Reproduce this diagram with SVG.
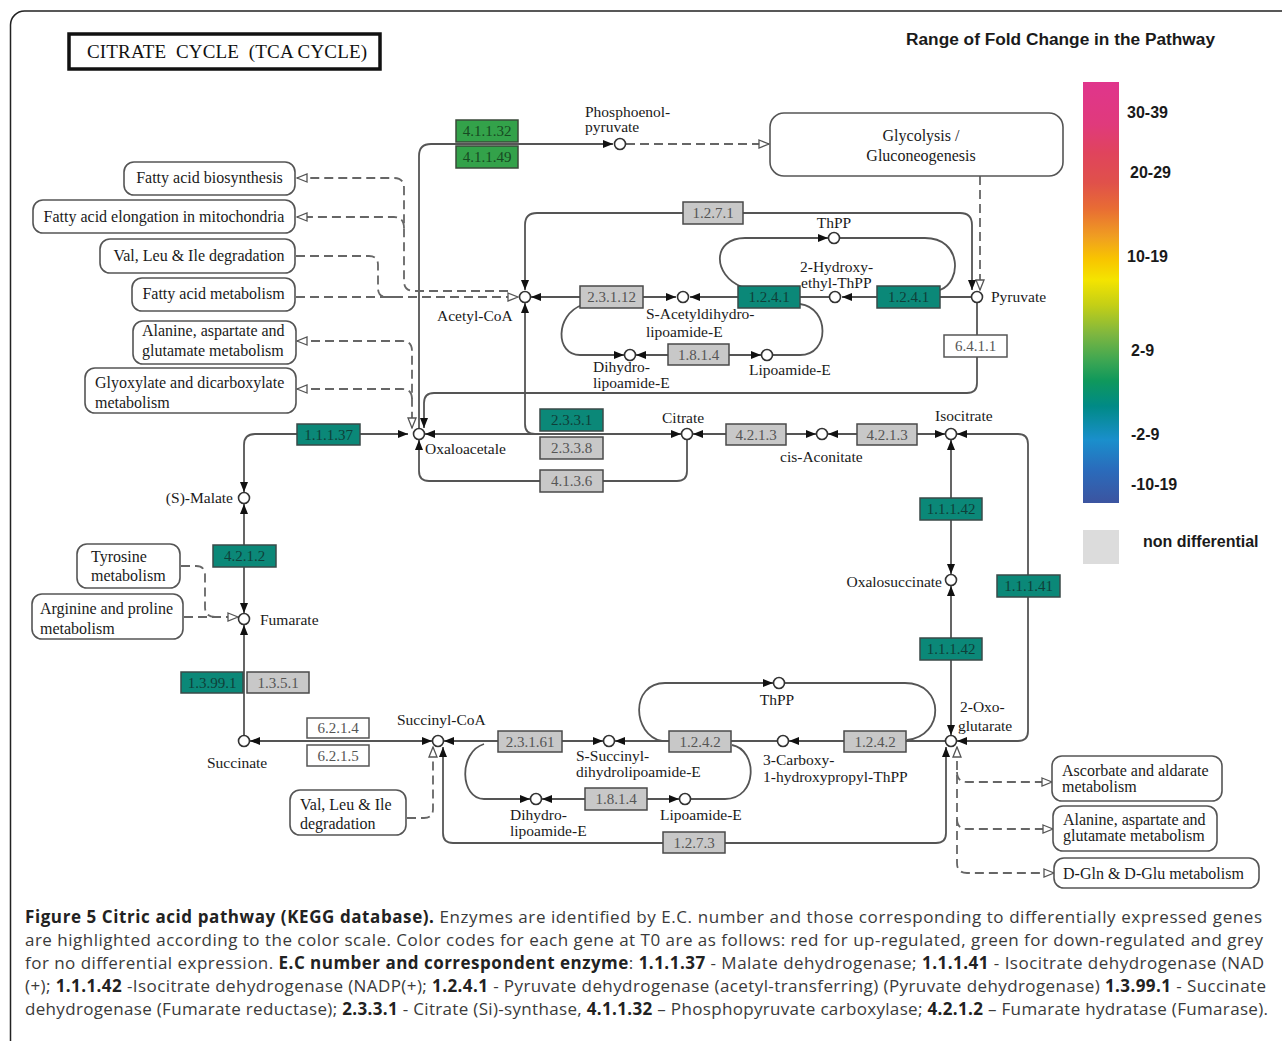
<svg xmlns="http://www.w3.org/2000/svg" width="1282" height="1041" viewBox="0 0 1282 1041">
<style>
.lb{font-family:"Liberation Serif",serif;font-size:15.5px;fill:#1a1a1a}
.mp{font-family:"Liberation Serif",serif;font-size:16px;fill:#1a1a1a}
.mbox{fill:#fff;stroke:#555;stroke-width:1.6}
.ec{font-family:"Liberation Serif",serif;font-size:15px;text-anchor:middle}
.eg rect{fill:#c8c8c8;stroke:#4a4a4a;stroke-width:1.5}
.eg text{fill:#555}
.et rect{fill:#0b8878;stroke:#3a4a48;stroke-width:1.5}
.et text{fill:#0f3f39}
.en rect{fill:#33a24a;stroke:#3a4a3a;stroke-width:1.5}
.en text{fill:#174a22}
.ew rect{fill:#fff;stroke:#555;stroke-width:1.5}
.ew text{fill:#555}
.cp{fill:#fff;stroke:#333;stroke-width:1.6}
.ln{fill:none;stroke:#555;stroke-width:1.8}
.ds{fill:none;stroke:#666;stroke-width:1.8;stroke-dasharray:9 5}
.fa{marker-end:url(#af)}
.fs{marker-start:url(#af)}
.oa{marker-end:url(#ao)}
.os{marker-start:url(#ao)}
.lg{font-family:"Liberation Sans",Arial,sans-serif;font-weight:bold;font-size:16px;fill:#1a1a1a}
.cap{font-family:"Open Sans","Noto Sans",sans-serif;font-size:17px;fill:#3a3a3a}
.b{font-weight:bold;fill:#222}
</style>
<defs>
<marker id="af" viewBox="0 0 10 8" refX="10" refY="4" markerWidth="10" markerHeight="8" markerUnits="userSpaceOnUse" orient="auto-start-reverse"><path d="M0,0 L10,4 L0,8 Z" fill="#111"/></marker>
<marker id="ao" viewBox="0 0 12 10" refX="11" refY="5" markerWidth="12" markerHeight="10" markerUnits="userSpaceOnUse" orient="auto-start-reverse"><path d="M1,1 L11,5 L1,9 Z" fill="#fff" stroke="#555" stroke-width="1.3"/></marker>
<linearGradient id="grad" x1="0" y1="0" x2="0" y2="1">
<stop offset="0" stop-color="#e0358c"/>
<stop offset="0.1" stop-color="#e03a7c"/>
<stop offset="0.17" stop-color="#e0445c"/>
<stop offset="0.24" stop-color="#e0514a"/>
<stop offset="0.3" stop-color="#e86c34"/>
<stop offset="0.37" stop-color="#f0a020"/>
<stop offset="0.42" stop-color="#f8c400"/>
<stop offset="0.47" stop-color="#f4e400"/>
<stop offset="0.53" stop-color="#c4cf16"/>
<stop offset="0.6" stop-color="#7db640"/>
<stop offset="0.66" stop-color="#3fa752"/>
<stop offset="0.71" stop-color="#0f985c"/>
<stop offset="0.77" stop-color="#008a86"/>
<stop offset="0.85" stop-color="#1a8fcc"/>
<stop offset="0.92" stop-color="#2a6cbc"/>
<stop offset="1" stop-color="#3c54a0"/>
</linearGradient>
</defs>
<rect width="1282" height="1041" fill="#fff"/>
<rect x="10.5" y="11" width="1300" height="1100" rx="14" fill="none" stroke="#222" stroke-width="1.5"/>

<g id="title">
<rect x="69" y="34" width="311" height="35" fill="#fff" stroke="#111" stroke-width="3.5"/>
<text x="87" y="58" font-family="Liberation Serif,serif" font-size="19" fill="#111" textLength="280" lengthAdjust="spacing">CITRATE&#160; CYCLE&#160; (TCA CYCLE)</text>
</g>

<g id="legend">
<text class="lg" x="906" y="45" textLength="309" lengthAdjust="spacingAndGlyphs">Range of Fold Change in the Pathway</text>
<rect x="1083" y="82" width="36" height="421" fill="url(#grad)"/>
<text class="lg" x="1127" y="118">30-39</text>
<text class="lg" x="1130" y="178">20-29</text>
<text class="lg" x="1127" y="262">10-19</text>
<text class="lg" x="1131" y="356">2-9</text>
<text class="lg" x="1131" y="440">-2-9</text>
<text class="lg" x="1131" y="490">-10-19</text>
<rect x="1083" y="530" width="36" height="34" fill="#dcdcdc"/>
<text class="lg" x="1143" y="547">non differential</text>
</g>

<g id="connectors">
<path class="ln fa" d="M419,428 V156 Q419,144 431,144 H613"/>
<path class="ds oa" d="M626,144 H769"/>
<path class="ds oa" d="M980,176 V290"/>
<path class="ln fs fa" d="M972,290 V225 Q972,213 960,213 H537 Q525,213 525,225 V290"/>
<path class="ds oa" d="M508,291 H414 Q404,291 404,281 V188 Q404,178 394,178 H297"/>
<path class="ds oa" d="M404,228 Q404,217 394,217 H297"/>
<path class="ds" d="M296,256 H369 Q378,256 378,265 V288 Q378,297 387,297 H400"/>
<path class="ds oa" d="M296,297 H518"/>
<path class="ln fs fa" d="M531,297 H676"/>
<path class="ln fs" d="M690,297 H829"/>
<path class="ln fs" d="M842,297 H971"/>
<path class="ln fa" d="M742,287 C712,275 712,238 745,238 H828"/>
<path class="ln" d="M840,238 H925 C962,238 962,282 940,290"/>
<path class="ln fa" d="M582,305 C555,315 555,355 580,355 H624"/>
<path class="ln fs fa" d="M636,355 H761"/>
<path class="ln" d="M773,355 H800 C830,355 830,308 800,304"/>
<path class="ln fa" d="M977,303 V383 Q977,393 967,393 H434 Q424,393 424,403 V428"/>
<path class="ds os oa" d="M297,341 H402 Q412,341 412,351 V428"/>
<path class="ds os" d="M297,389 H402 Q412,389 412,399"/>
<path class="ln fs fa" d="M408,434 H255 Q244,434 244,445 V492"/>
<path class="ln fs fa" d="M244,504 V613"/>
<path class="ln fs" d="M244,625 V735"/>
<path class="ds" d="M181,566 H196 Q205,566 205,575 V607 Q205,617 215,617"/>
<path class="ds oa" d="M184,617 H238"/>
<path class="ln fs fa" d="M425,434 H681"/>
<path class="ln fs" d="M525,303 V424 Q525,434 535,434"/>
<path class="ln fs" d="M419,440 V471 Q419,481 429,481 H677 Q687,481 687,471 V440"/>
<path class="ln fs fa" d="M693,434 H816"/>
<path class="ln fs fa" d="M828,434 H945"/>
<path class="ln fs fa" d="M957,434 H1018 Q1028,434 1028,444 V731 Q1028,741 1018,741 H957"/>
<path class="ln fs fa" d="M951,440 V574"/>
<path class="ln fs fa" d="M951,586 V735"/>
<path class="ln fs fa" d="M250,741 H432"/>
<path class="ln fs fa" d="M444,741 H603"/>
<path class="ln fs" d="M615,741 H777"/>
<path class="ln fs" d="M789,741 H945"/>
<path class="ln fa" d="M662,741 C632,735 630,683 665,683 H773"/>
<path class="ln" d="M785,683 H905 C945,683 945,736 907,740"/>
<path class="ln fa" d="M484,744 C458,752 460,799 484,799 H530"/>
<path class="ln fs fa" d="M542,799 H679"/>
<path class="ln" d="M691,799 H725 C758,799 758,750 732,745"/>
<path class="ln fs fa" d="M443,747 V833 Q443,843 453,843 H936 Q946,843 946,833 V747"/>
<path class="ds oa" d="M407,818 H424 Q433,818 433,809 V747"/>
<path class="ds os oa" d="M957,747 V863 Q957,873 967,873 H1054"/>
<path class="ds oa" d="M957,772 Q957,782 967,782 H1052"/>
<path class="ds oa" d="M957,819 Q957,829 967,829 H1053"/>
</g>

<g id="map-fab"><rect class="mbox" x="124" y="162" width="171" height="33" rx="10"/><text class="mp" x="209.5" y="183" text-anchor="middle">Fatty acid biosynthesis</text></g>
<g id="map-fae"><rect class="mbox" x="33" y="200" width="262" height="33" rx="10"/><text class="mp" x="164" y="222" text-anchor="middle">Fatty acid elongation in mitochondria</text></g>
<g id="map-val1"><rect class="mbox" x="100" y="239" width="195" height="34" rx="10"/><text class="mp" x="199" y="261" text-anchor="middle">Val, Leu &amp; Ile degradation</text></g>
<g id="map-fam"><rect class="mbox" x="132" y="278" width="163" height="33" rx="10"/><text class="mp" x="213.5" y="299" text-anchor="middle">Fatty acid metabolism</text></g>
<g id="map-ala1"><rect class="mbox" x="133" y="321" width="163" height="43" rx="10"/><text class="mp" x="142" y="336">Alanine, aspartate and</text><text class="mp" x="142" y="356">glutamate metabolism</text></g>
<g id="map-gly"><rect class="mbox" x="85" y="368" width="211" height="45" rx="10"/><text class="mp" x="95" y="388">Glyoxylate and dicarboxylate</text><text class="mp" x="95" y="408">metabolism</text></g>
<g id="map-glycolysis"><rect class="mbox" x="770" y="113" width="293" height="63" rx="14"/><text class="mp" x="921" y="141" text-anchor="middle">Glycolysis /</text><text class="mp" x="921" y="161" text-anchor="middle">Gluconeogenesis</text></g>
<g id="map-tyr"><rect class="mbox" x="77" y="544" width="103" height="44" rx="10"/><text class="mp" x="91" y="562">Tyrosine</text><text class="mp" x="91" y="581">metabolism</text></g>
<g id="map-arg"><rect class="mbox" x="32" y="594" width="151" height="45" rx="10"/><text class="mp" x="40" y="614">Arginine and proline</text><text class="mp" x="40" y="634">metabolism</text></g>
<g id="map-val2"><rect class="mbox" x="290" y="790" width="116" height="45" rx="10"/><text class="mp" x="300" y="810">Val, Leu &amp; Ile</text><text class="mp" x="300" y="829">degradation</text></g>
<g id="map-asc"><rect class="mbox" x="1052" y="756" width="170" height="45" rx="10"/><text class="mp" x="1062" y="776">Ascorbate and aldarate</text><text class="mp" x="1062" y="792">metabolism</text></g>
<g id="map-ala2"><rect class="mbox" x="1053" y="806" width="164" height="45" rx="10"/><text class="mp" x="1063" y="825">Alanine, aspartate and</text><text class="mp" x="1063" y="841">glutamate metabolism</text></g>
<g id="map-dgln"><rect class="mbox" x="1054" y="858" width="205" height="30" rx="10"/><text class="mp" x="1063" y="879">D-Gln &amp; D-Glu metabolism</text></g>

<g id="ec-4.1.1.32" class="en"><rect x="456" y="120" width="62" height="22"/><text class="ec" x="487" y="136">4.1.1.32</text></g>
<g id="ec-4.1.1.49" class="en"><rect x="456" y="146" width="62" height="22"/><text class="ec" x="487" y="162">4.1.1.49</text></g>
<g id="ec-1.2.7.1" class="eg"><rect x="683" y="202" width="60" height="22"/><text class="ec" x="713" y="218">1.2.7.1</text></g>
<g id="ec-2.3.1.12" class="eg"><rect x="580" y="286" width="63" height="22"/><text class="ec" x="611.5" y="302">2.3.1.12</text></g>
<g id="ec-1.2.4.1a" class="et"><rect x="738" y="286" width="62" height="22"/><text class="ec" x="769" y="302">1.2.4.1</text></g>
<g id="ec-1.2.4.1b" class="et"><rect x="877" y="286" width="63" height="22"/><text class="ec" x="908.5" y="302">1.2.4.1</text></g>
<g id="ec-6.4.1.1" class="ew"><rect x="944" y="335" width="63" height="22"/><text class="ec" x="975.5" y="351">6.4.1.1</text></g>
<g id="ec-1.8.1.4a" class="eg"><rect x="668" y="344" width="61" height="21"/><text class="ec" x="698.5" y="360">1.8.1.4</text></g>
<g id="ec-2.3.3.1" class="et"><rect x="540" y="409" width="63" height="22"/><text class="ec" x="571.5" y="425">2.3.3.1</text></g>
<g id="ec-2.3.3.8" class="eg"><rect x="540" y="437" width="63" height="22"/><text class="ec" x="571.5" y="453">2.3.3.8</text></g>
<g id="ec-4.1.3.6" class="eg"><rect x="540" y="470" width="63" height="22"/><text class="ec" x="571.5" y="486">4.1.3.6</text></g>
<g id="ec-4.2.1.3a" class="eg"><rect x="726" y="424" width="60" height="21"/><text class="ec" x="756" y="440">4.2.1.3</text></g>
<g id="ec-4.2.1.3b" class="eg"><rect x="857" y="424" width="60" height="21"/><text class="ec" x="887" y="440">4.2.1.3</text></g>
<g id="ec-1.1.1.37" class="et"><rect x="297" y="424" width="63" height="21"/><text class="ec" x="328.5" y="440">1.1.1.37</text></g>
<g id="ec-1.1.1.42a" class="et"><rect x="920" y="498" width="62" height="22"/><text class="ec" x="951" y="514">1.1.1.42</text></g>
<g id="ec-1.1.1.41" class="et"><rect x="997" y="575" width="63" height="22"/><text class="ec" x="1028.5" y="591">1.1.1.41</text></g>
<g id="ec-1.1.1.42b" class="et"><rect x="920" y="638" width="62" height="22"/><text class="ec" x="951" y="654">1.1.1.42</text></g>
<g id="ec-4.2.1.2" class="et"><rect x="213" y="545" width="63" height="22"/><text class="ec" x="244.5" y="561">4.2.1.2</text></g>
<g id="ec-1.3.99.1" class="et"><rect x="181" y="672" width="62" height="21"/><text class="ec" x="212" y="688">1.3.99.1</text></g>
<g id="ec-1.3.5.1" class="eg"><rect x="247" y="672" width="62" height="21"/><text class="ec" x="278" y="688">1.3.5.1</text></g>
<g id="ec-6.2.1.4" class="ew"><rect x="307" y="718" width="62" height="20"/><text class="ec" x="338" y="733">6.2.1.4</text></g>
<g id="ec-6.2.1.5" class="ew"><rect x="307" y="745" width="62" height="21"/><text class="ec" x="338" y="761">6.2.1.5</text></g>
<g id="ec-2.3.1.61" class="eg"><rect x="498" y="731" width="64" height="21"/><text class="ec" x="530" y="747">2.3.1.61</text></g>
<g id="ec-1.2.4.2a" class="eg"><rect x="669" y="731" width="62" height="21"/><text class="ec" x="700" y="747">1.2.4.2</text></g>
<g id="ec-1.2.4.2b" class="eg"><rect x="844" y="731" width="62" height="21"/><text class="ec" x="875" y="747">1.2.4.2</text></g>
<g id="ec-1.8.1.4b" class="eg"><rect x="585" y="788" width="62" height="22"/><text class="ec" x="616" y="804">1.8.1.4</text></g>
<g id="ec-1.2.7.3" class="eg"><rect x="663" y="832" width="62" height="21"/><text class="ec" x="694" y="848">1.2.7.3</text></g>

<g id="c-pep"><circle class="cp" cx="620" cy="144" r="5.5"/><text class="lb" x="585" y="117">Phosphoenol-</text><text class="lb" x="585" y="132">pyruvate</text></g>
<g id="c-thpp1"><circle class="cp" cx="834" cy="238" r="5.5"/><text class="lb" x="834" y="228" text-anchor="middle">ThPP</text></g>
<g id="c-acetylcoa"><circle class="cp" cx="525" cy="297" r="5.5"/><text class="lb" x="437" y="321">Acetyl-CoA</text></g>
<g id="c-sacetyl"><circle class="cp" cx="683" cy="297" r="5.5"/><text class="lb" x="646" y="319">S-Acetyldihydro-</text><text class="lb" x="646" y="337">lipoamide-E</text></g>
<g id="c-het"><circle class="cp" cx="835" cy="297" r="5.5"/><text class="lb" x="800" y="272">2-Hydroxy-</text><text class="lb" x="801" y="288">ethyl-ThPP</text></g>
<g id="c-pyruvate"><circle class="cp" cx="977" cy="297" r="5.5"/><text class="lb" x="991" y="302">Pyruvate</text></g>
<g id="c-dhl1"><circle class="cp" cx="630" cy="355" r="5.5"/><text class="lb" x="593" y="372">Dihydro-</text><text class="lb" x="593" y="388">lipoamide-E</text></g>
<g id="c-lip1"><circle class="cp" cx="767" cy="355" r="5.5"/><text class="lb" x="749" y="375">Lipoamide-E</text></g>
<g id="c-oaa"><circle class="cp" cx="419" cy="434" r="5.5"/><text class="lb" x="425" y="454">Oxaloacetale</text></g>
<g id="c-citrate"><circle class="cp" cx="687" cy="434" r="5.5"/><text class="lb" x="662" y="423">Citrate</text></g>
<g id="c-cisaconitate"><circle class="cp" cx="822" cy="434" r="5.5"/><text class="lb" x="780" y="462">cis-Aconitate</text></g>
<g id="c-isocitrate"><circle class="cp" cx="951" cy="434" r="5.5"/><text class="lb" x="935" y="421">Isocitrate</text></g>
<g id="c-malate"><circle class="cp" cx="244" cy="498" r="5.5"/><text class="lb" x="233" y="503" text-anchor="end">(S)-Malate</text></g>
<g id="c-oxalosuccinate"><circle class="cp" cx="951" cy="580" r="5.5"/><text class="lb" x="942" y="587" text-anchor="end">Oxalosuccinate</text></g>
<g id="c-fumarate"><circle class="cp" cx="244" cy="619" r="5.5"/><text class="lb" x="260" y="625">Fumarate</text></g>
<g id="c-thpp2"><circle class="cp" cx="779" cy="683" r="5.5"/><text class="lb" x="777" y="705" text-anchor="middle">ThPP</text></g>
<g id="c-2og"><circle class="cp" cx="951" cy="741" r="5.5"/><text class="lb" x="960" y="712">2-Oxo-</text><text class="lb" x="958" y="731">glutarate</text></g>
<g id="c-succinate"><circle class="cp" cx="244" cy="741" r="5.5"/><text class="lb" x="207" y="768">Succinate</text></g>
<g id="c-succinylcoa"><circle class="cp" cx="438" cy="741" r="5.5"/><text class="lb" x="397" y="725">Succinyl-CoA</text></g>
<g id="c-ssuccinyl"><circle class="cp" cx="609" cy="741" r="5.5"/><text class="lb" x="576" y="761">S-Succinyl-</text><text class="lb" x="576" y="777">dihydrolipoamide-E</text></g>
<g id="c-carboxy"><circle class="cp" cx="783" cy="741" r="5.5"/><text class="lb" x="763" y="765">3-Carboxy-</text><text class="lb" x="763" y="782">1-hydroxypropyl-ThPP</text></g>
<g id="c-dhl2"><circle class="cp" cx="536" cy="799" r="5.5"/><text class="lb" x="510" y="820">Dihydro-</text><text class="lb" x="510" y="836">lipoamide-E</text></g>
<g id="c-lip2"><circle class="cp" cx="685" cy="799" r="5.5"/><text class="lb" x="660" y="820">Lipoamide-E</text></g>

<g id="caption">
<text class="cap" x="25" y="923" textLength="1237" lengthAdjust="spacing"><tspan class="b">Figure 5 Citric acid pathway (KEGG database).</tspan> Enzymes are identified by E.C. number and those corresponding to differentially expressed genes</text>
<text class="cap" x="25" y="946" textLength="1238" lengthAdjust="spacing">are highlighted according to the color scale. Color codes for each gene at T0 are as follows: red for up-regulated, green for down-regulated and grey</text>
<text class="cap" x="25" y="969" textLength="1239" lengthAdjust="spacing">for no differential expression. <tspan class="b">E.C number and correspondent enzyme</tspan>: <tspan class="b">1.1.1.37</tspan> - Malate dehydrogenase; <tspan class="b">1.1.1.41</tspan> - Isocitrate dehydrogenase (NAD</text>
<text class="cap" x="25" y="992" textLength="1241" lengthAdjust="spacing">(+); <tspan class="b">1.1.1.42</tspan> -Isocitrate dehydrogenase (NADP(+); <tspan class="b">1.2.4.1</tspan> - Pyruvate dehydrogenase (acetyl-transferring) (Pyruvate dehydrogenase) <tspan class="b">1.3.99.1</tspan> - Succinate</text>
<text class="cap" x="25" y="1015" textLength="1243" lengthAdjust="spacing">dehydrogenase (Fumarate reductase); <tspan class="b">2.3.3.1</tspan> - Citrate (Si)-synthase, <tspan class="b">4.1.1.32</tspan> – Phosphopyruvate carboxylase; <tspan class="b">4.2.1.2</tspan> – Fumarate hydratase (Fumarase).</text>
</g>
</svg>
